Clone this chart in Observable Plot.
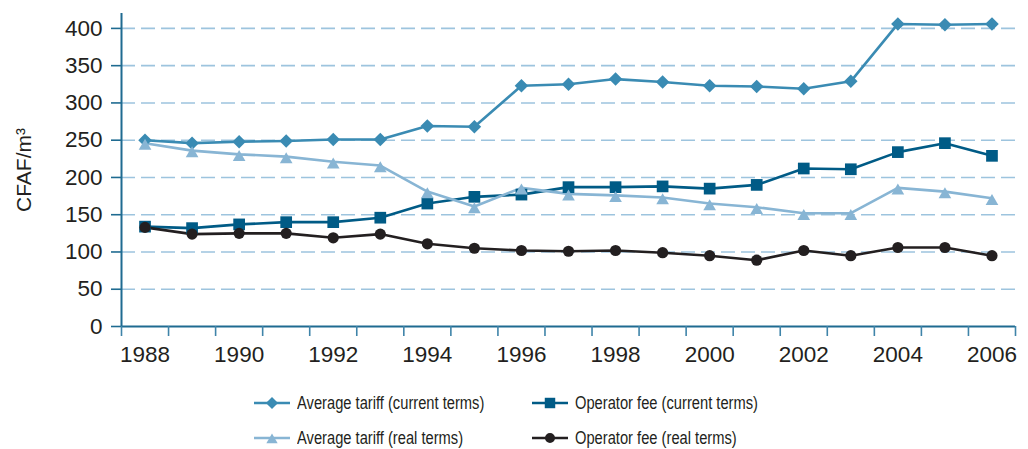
<!DOCTYPE html>
<html><head><meta charset="utf-8">
<script src="https://cdn.jsdelivr.net/npm/d3@7"></script>
<script src="https://cdn.jsdelivr.net/npm/@observablehq/plot@0.6"></script>
<style>
body{margin:0;background:#fff;font-family:"Liberation Sans",Arial,sans-serif;}
#chart svg{display:block}
#legend{position:relative;height:69px;width:1028px;}
.item{position:absolute;height:20px;display:flex;align-items:center;font-family:"Liberation Sans",Arial,sans-serif;font-size:17.5px;color:#231f20;white-space:nowrap}
.item svg{margin-right:7px;flex:none}
.item span{display:inline-block;transform:scaleX(0.84);transform-origin:left center}
</style></head><body><div id="chart"></div><div id="legend"></div>
<script>
const years = [1988,1989,1990,1991,1992,1993,1994,1995,1996,1997,1998,1999,2000,2001,2002,2003,2004,2005,2006];
const averageTariffCurrent = [250,246,248,249,251,251,269,268,323,325,332,328,323,322,319,329,406,405,406];
const operatorFeeCurrent   = [134,132,137,140,140,146,165,174,177,187,187,188,185,190,212,211,234,246,229];
const averageTariffReal    = [246,236,231,228,221,216,181,161,186,178,176,173,165,160,152,152,186,181,172];
const operatorFeeReal      = [133,124,125,125,119,124,111,105,102,101,102,99,95,89,102,95,106,106,95];
const yTicks = [0,50,100,150,200,250,300,350,400];
const xTickLabels = [1988,1990,1992,1994,1996,1998,2000,2002,2004,2006];
const yLabel = "CFAF/m³";

const seriesDefs = [
  {name:"Average tariff (current terms)", values: averageTariffCurrent, color:"#3a8bb3", symbol:"diamond2", r:6.1, dy:0},
  {name:"Operator fee (current terms)", values: operatorFeeCurrent, color:"#005b86", symbol:"square", r:6.6, dy:0},
  {name:"Average tariff (real terms)", values: averageTariffReal, color:"#88b5d4", symbol:"triangle", r:4.7, dy:3},
  {name:"Operator fee (real terms)", values: operatorFeeReal, color:"#231f20", symbol:"circle", r:5.6, dy:0}
];
const rows = s => years.map((year,i)=>({year, value:s.values[i]}));
const boundaries = d3.range(years[0]-0.5, years[years.length-1]+1, 1);

const axisColor = "#1f6b91";
const marks = [
  Plot.gridY(yTicks.filter(d=>d>0), {stroke:"#9dc4de", strokeOpacity:1, strokeWidth:1.6, strokeDasharray:"14,6"}),
  Plot.ruleX([years[0]-0.5], {stroke:axisColor, strokeWidth:2}),
  Plot.ruleY([0], {stroke:axisColor, strokeWidth:2}),
  Plot.axisY({ticks:yTicks, tickSize:10, tickPadding:9, stroke:axisColor, strokeWidth:1.6, fill:"#231f20", fontSize:22.5}),
  Plot.axisX({ticks:boundaries, tickSize:10, tickFormat:()=>"", stroke:"#3f84a9", strokeWidth:1.6}),
  Plot.axisX({ticks:xTickLabels, tickSize:0, tickPadding:20, tickFormat:d=>String(d), fill:"#231f20", fontSize:22.5}),
  Plot.text([yLabel], {frameAnchor:"left", rotate:-90, dx:-97, fontSize:21, fill:"#231f20", textAnchor:"middle"})
];
for (const s of seriesDefs) {
  marks.push(Plot.line(rows(s), {x:"year", y:"value", stroke:s.color, strokeWidth:2.6}));
}
for (const s of seriesDefs) {
  marks.push(Plot.dot(rows(s), {x:"year", y:"value", symbol:s.symbol, r:s.r, fill:s.color, stroke:"none", dy:s.dy}));
}

const chart = Plot.plot({
  width:1028, height:380,
  marginLeft:121, marginRight:13, marginTop:13, marginBottom:54,
  style:{fontFamily:"Liberation Sans, Arial, sans-serif", fontSize:"22px", color:"#231f20", background:"#fff"},
  x:{type:"linear", domain:[years[0]-0.5, years[years.length-1]+0.5], label:null},
  y:{domain:[0,420], label:null},
  marks
});
document.getElementById("chart").appendChild(chart);

const legend = document.getElementById("legend");
const pos = [[254,13],[532,13],[254,48],[532,48]];
seriesDefs.forEach((s,i)=>{
  const div = document.createElement("div");
  div.className = "item";
  div.style.left = pos[i][0]+"px";
  div.style.top = pos[i][1]+"px";
  const sym = {diamond2:d3.symbolDiamond2, square:d3.symbolSquare, triangle:d3.symbolTriangle, circle:d3.symbolCircle}[s.symbol];
  const size = Math.PI*s.r*s.r*0.8;
  const path = d3.symbol(sym, size)();
  div.innerHTML = `<svg width="36" height="20"><line x1="0" x2="36" y1="10" y2="10" stroke="${s.color}" stroke-width="2.6"/><path d="${path}" transform="translate(18,${10+(s.dy?2:0)})" fill="${s.color}"/></svg><span>${s.name}</span>`;
  legend.appendChild(div);
});
</script>
</body></html>
